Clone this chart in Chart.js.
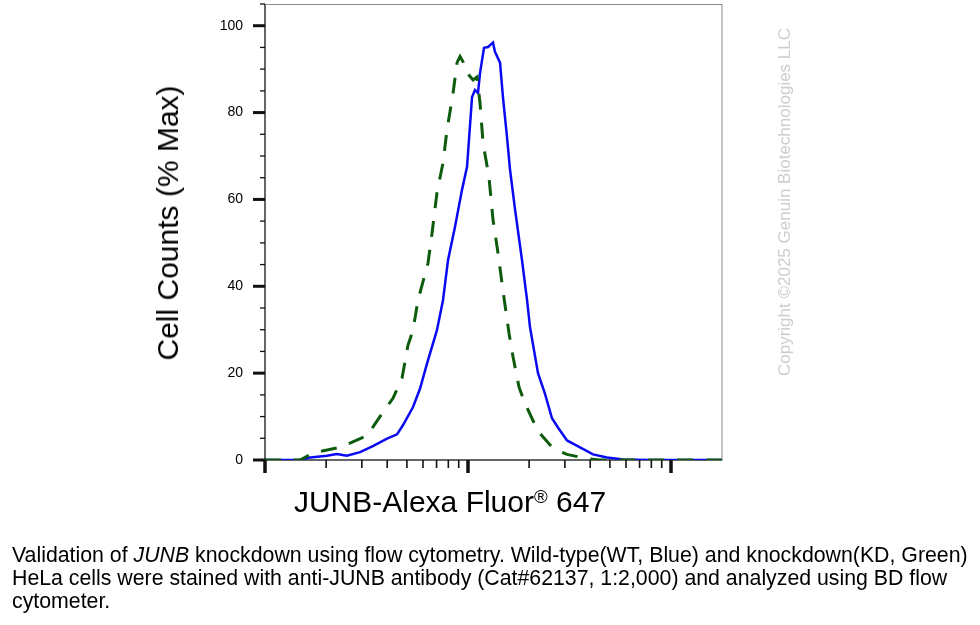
<!DOCTYPE html>
<html>
<head>
<meta charset="utf-8">
<script src="https://cdn.jsdelivr.net/npm/chart.js@4.4.1/dist/chart.umd.min.js"></script>
<style>
  html, body { margin: 0; padding: 0; background: #fff; }
  body { width: 980px; height: 625px; position: relative; overflow: hidden; font-family: 'Liberation Sans', Arial, sans-serif; color: #000; }
  #myChart { position: absolute; left: 0; top: 0; }
  .ytitle { position: absolute; left: 168px; top: 223px; transform: translate(-50%, -50%) rotate(-90deg); font-size: 30px; white-space: nowrap; }
  .xtitle { position: absolute; left: 450px; top: 502px; transform: translate(-50%, -50%); font-size: 30px; white-space: nowrap; }
  .xtitle sup { font-size: 62%; vertical-align: 0.5em; line-height: 0; }
  .watermark { position: absolute; left: 785px; top: 202px; transform: translate(-50%, -50%) rotate(-90deg); font-size: 17px; color: #cdcdcd; white-space: nowrap; }
  .caption { position: absolute; left: 12px; top: 544px; font-size: 21.3px; line-height: 23px; white-space: nowrap; }
</style>
</head>
<body>
<canvas id="myChart" width="980" height="625"></canvas>
<div class="ytitle">Cell Counts (% Max)</div>
<div class="xtitle">JUNB-Alexa Fluor<sup>®</sup> 647</div>
<div class="watermark">Copyright ©2025 Genuin Biotechnologies LLC</div>
<div class="caption">Validation of <i>JUNB</i> knockdown using flow cytometry. Wild-type(WT, Blue) and knockdown(KD, Green)<br>HeLa cells were stained with anti-JUNB antibody (Cat#62137, 1:2,000) and analyzed using BD flow<br>cytometer.</div>
<script>
// WT (blue, solid)
const wtIntensity = [100, 149, 167, 202, 226, 253, 294, 340, 399, 447, 478, 536, 580, 628, 703, 753, 797, 863, 934, 989,
  1047, 1082, 1120, 1146, 1199, 1255, 1328, 1358, 1438, 1486, 1556, 1611, 1706, 1845, 1954, 2020, 2212, 2393, 2592, 2774,
  3074, 3563, 4128, 4841, 5803, 7882, 17830];
const wtPercent = [0, 0, 0.6, 1.0, 1.4, 1.0, 1.8, 3.2, 4.9, 5.9, 8.0, 12.2, 16.4, 22.2, 29.9, 36.8, 46, 53.7, 62.2, 67.5,
  83.6, 85.2, 84.5, 89.1, 94.9, 95.1, 96.1, 94, 91.5, 83.6, 74.4, 66.8, 57.6, 46, 36.8, 30.6, 20, 15.3, 9.6, 7.5,
  4.5, 2.9, 1.3, 0.6, 0.1, 0, 0];

// KD (green, dashed)
const kdIntensity = [100, 149, 172, 234, 318, 381, 427, 473, 506, 536, 567, 635, 665, 703, 753, 788, 844, 883, 914, 945,
  989, 1059, 1107, 1146, 1186, 1268, 1328, 1406, 1486, 1592, 1667, 1783, 1910, 2089, 2263, 2623, 3074, 3855, 4467, 17830];
const kdPercent = [0, 0, 1.6, 2.9, 5.6, 11, 14.2, 18.8, 26.4, 29.9, 36.8, 45.3, 52.2, 61.5, 68.4, 76, 84.5, 91.5, 92.9, 91.7,
  89.1, 87.5, 88.2, 82.2, 73, 65.2, 55.3, 47.6, 39.1, 29.2, 23.7, 16.8, 13, 9.1, 6.1, 2.7, 1.3, 0.3, 0, 0];

const yTickValues = [0, 20, 40, 60, 80, 100];
const yMinorTicks = [5, 10, 15, 25, 30, 35, 45, 50, 55, 65, 70, 75, 85, 90, 95, 105];
const xMajorTicks = [100, 1000, 10000];
const xMinorTicks = [200, 300, 400, 500, 600, 700, 800, 900, 2000, 3000, 4000, 5000, 6000, 7000, 8000, 9000];

const toPoints = (xs, ys) => xs.map((x, i) => ({ x, y: ys[i] }));

// frame under the curves, tick marks on top
const frameAndTicks = {
  id: 'frameAndTicks',
  beforeDatasetsDraw(chart) {
    const { ctx, chartArea: a } = chart;
    ctx.save();
    ctx.strokeStyle = '#8a8a8a';
    ctx.lineWidth = 1;
    ctx.strokeRect(a.left, a.top + 0.5, a.right - a.left, a.bottom - a.top);
    ctx.strokeStyle = '#666';
    ctx.lineWidth = 2;
    ctx.beginPath();
    ctx.moveTo(a.left, a.top);
    ctx.lineTo(a.left, a.bottom);
    ctx.lineTo(a.right, a.bottom);
    ctx.stroke();
    ctx.restore();
  },
  afterDraw(chart) {
    const { ctx, chartArea: a, scales: { x, y } } = chart;
    const line = (x1, y1, x2, y2, w) => {
      ctx.lineWidth = w;
      ctx.beginPath();
      ctx.moveTo(x1, y1);
      ctx.lineTo(x2, y2);
      ctx.stroke();
    };
    ctx.save();
    ctx.strokeStyle = '#111';
    yMinorTicks.forEach(v => {
      const py = y.getPixelForValue(v);
      line(a.left - 5, py, a.left, py, 1.3);
    });
    yTickValues.forEach(v => {
      const py = y.getPixelForValue(v);
      line(a.left - 12, py, a.left, py, 3);
    });
    xMinorTicks.forEach(v => {
      const px = x.getPixelForValue(v);
      line(px, a.bottom, px, a.bottom + 8, 1.6);
    });
    xMajorTicks.forEach(v => {
      const px = x.getPixelForValue(v);
      line(px, a.bottom, px, a.bottom + 13, 3.5);
    });
    ctx.restore();
  }
};

const canvas = document.getElementById('myChart');
const ctx = canvas.getContext('2d');

new Chart(ctx, {
  type: 'line',
  data: {
    datasets: [
      {
        label: 'KD',
        data: toPoints(kdIntensity, kdPercent),
        borderColor: '#0d5c0d',
        borderWidth: 3,
        borderDash: [16, 13],
        pointRadius: 0,
        tension: 0,
        order: 0
      },
      {
        label: 'WT',
        data: toPoints(wtIntensity, wtPercent),
        borderColor: '#0a0af2',
        borderWidth: 2.5,
        pointRadius: 0,
        tension: 0,
        order: 1
      }
    ]
  },
  options: {
    responsive: false,
    animation: false,
    layout: { autoPadding: false, padding: { top: 4, right: 258, left: 0, bottom: 0 } },
    plugins: {
      legend: { display: false },
      tooltip: { enabled: false }
    },
    scales: {
      x: {
        type: 'logarithmic',
        min: 100,
        max: 17830,
        grid: { display: false },
        border: { display: false },
        ticks: { display: false },
        afterFit: s => { s.height = 165; s.paddingLeft = 0; s.paddingRight = 0; }
      },
      y: {
        min: 0,
        max: 105,
        grid: { display: false, drawTicks: false },
        border: { display: false },
        afterBuildTicks: s => { s.ticks = yTickValues.map(v => ({ value: v })); },
        afterFit: s => { s.width = 265; s.paddingTop = 0; s.paddingBottom = 0; },
        ticks: {
          padding: 22,
          color: '#000',
          font: { family: "'Liberation Sans', Arial, sans-serif", size: 14 }
        }
      }
    }
  },
  plugins: [frameAndTicks]
});
</script>
</body>
</html>
